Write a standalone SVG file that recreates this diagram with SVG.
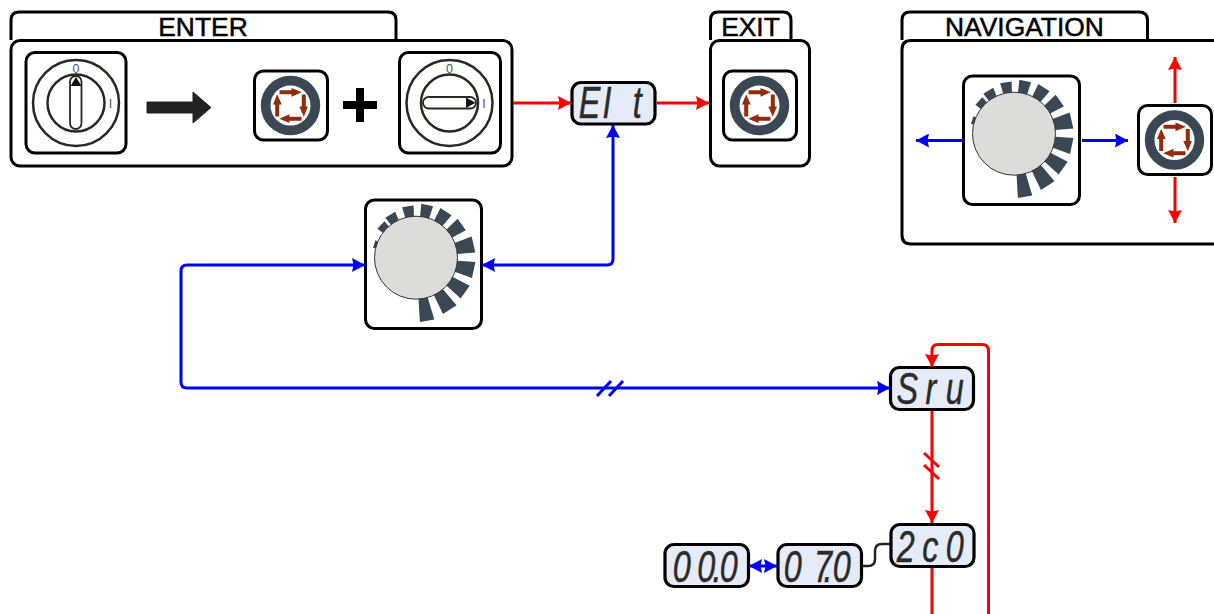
<svg xmlns="http://www.w3.org/2000/svg" xmlns:xlink="http://www.w3.org/1999/xlink" width="1214" height="614" viewBox="0 0 1214 614">
<style>
.box{fill:#fff;stroke:#000;stroke-width:3}
.tab{font:26.400px "Liberation Sans",Arial,sans-serif;text-anchor:middle;fill:#000;stroke:#000;stroke-width:.5}
.disp{fill:#e6ecf7;stroke:#000;stroke-width:3.200}
.seg{font:italic 45px "Liberation Sans",Arial,sans-serif;text-anchor:middle;fill:#2b2b2b;stroke:#2b2b2b;stroke-width:.5}
.r{fill:none;stroke:#f00;stroke-width:3}
.b{fill:none;stroke:#00f;stroke-width:3}
.sw{fill:none;stroke:#2b2722;stroke-width:2.500}
.mk{font:12.500px "Liberation Sans",Arial,sans-serif;text-anchor:middle;fill:#555}
.w{fill:#3a4754}
</style>
<defs>
<marker id="ar" viewBox="0 0 13 14" refX="13" refY="7" markerWidth="13" markerHeight="14" markerUnits="userSpaceOnUse" orient="auto-start-reverse"><path d="M0 0L13 7L0 14L1.500 7Z" fill="#f00"/></marker>
<marker id="ab" viewBox="0 0 13 14" refX="13" refY="7" markerWidth="13" markerHeight="14" markerUnits="userSpaceOnUse" orient="auto-start-reverse"><path d="M0 0L13 7L0 14L1.500 7Z" fill="#00f"/></marker>
<g id="button">
<rect class="box" x="-36.500" y="-34.500" width="73" height="69" rx="9"/>
<circle cx="-.5" r="24.850" fill="none" stroke="#3a4754" stroke-width="9.700"/>
<g fill="#8f2d0c" transform="translate(-.5 0)">
<path id="ba" d="M-11 -15.300H1V-17.500L11.300 -13.300L1 -8.800V-11.300H-11Z"/>
<use xlink:href="#ba" href="#ba" transform="rotate(90)"/>
<use xlink:href="#ba" href="#ba" transform="rotate(180)"/>
<use xlink:href="#ba" href="#ba" transform="rotate(270)"/>
</g>
</g>
<g id="dial">
<rect class="box" x="-50.500" y="-57.700" width="116" height="128.500" rx="9"/>
<g class="w">
<polygon transform="rotate(-72)" points="-4,-44 4,-44 3,-38 -3,-38"/>
<polygon transform="rotate(-47)" points="-5.200,-48 5.200,-48 4,-38 -4,-38"/>
<polygon transform="rotate(-31)" points="-5.800,-50 5.800,-50 4,-38 -4,-38"/>
<polygon transform="rotate(-9)" points="-5.800,-52 5.800,-52 4,-38 -4,-38"/>
<polygon transform="rotate(12)" points="-6,-54 6,-54 4.300,-38 -4.300,-38"/>
<polygon transform="rotate(33)" points="-6.700,-55 6.700,-55 4.600,-38 -4.600,-38"/>
<polygon transform="rotate(54)" points="-7,-56.500 7,-56.500 4.600,-38 -4.600,-38"/>
<polygon transform="rotate(77)" points="-8.200,-59 8.200,-59 5.300,-38 -5.300,-38"/>
<polygon transform="rotate(102)" points="-8.200,-59 8.200,-59 5.300,-38 -5.300,-38"/>
<polygon transform="rotate(125)" points="-7.900,-60 7.900,-60 5,-38 -5,-38"/>
<polygon transform="rotate(147)" points="-8.100,-62 8.100,-62 5,-38 -5,-38"/>
<polygon transform="rotate(170)" points="-7.300,-64 7.300,-64 4.300,-38 -4.300,-38"/>
</g>
<circle r="41.500" fill="#dcdcda" stroke="#333" stroke-width="1"/>
</g>
<g id="dialface">
<circle class="sw" r="43"/>
<circle class="sw" r="28.500"/>
<text class="mk" y="-30.500">0</text>
<text class="mk" x="34.500" y="4.500">I</text>
</g>
</defs>

<g id="enter">
<path class="box" d="M11 40V20Q11 12 19 12H388Q396 12 396 20V40"/>
<text class="tab" x="203" y="36">ENTER</text>
<rect class="box" x="11" y="40.500" width="501" height="125.500" rx="9"/>
<rect class="box" x="26" y="52.500" width="100" height="100.500" rx="9"/>
<use xlink:href="#dialface" href="#dialface" transform="translate(76 103)"/>
<rect x="70" y="76" width="11.500" height="53" rx="5.700" fill="#fff" stroke="#2b2722" stroke-width="1.800"/>
<path d="M76 77L81.500 86H70.500Z" fill="#111"/>
<path d="M147 102H193V92L211 107.500L193 123V113H147Z" fill="#222" stroke="#222" stroke-linejoin="round"/>
<use xlink:href="#button" href="#button" transform="translate(291 105.500)"/>
<path d="M343 101H356V88H364V101H377V109H364V122H356V109H343Z" fill="#000"/>
<rect class="box" x="399.500" y="52.500" width="101" height="100.500" rx="9"/>
<use xlink:href="#dialface" href="#dialface" transform="translate(449.500 103)"/>
<rect x="423" y="97" width="53" height="11.500" rx="5.700" fill="#fff" stroke="#2b2722" stroke-width="1.800"/>
<path d="M475.500 102.700L466 97.500V108Z" fill="#111"/>
</g>

<g id="exit">
<path class="box" d="M710.500 40V20Q710.500 12 718 12H783Q791 12 791 20V40"/>
<text class="tab" x="750.500" y="36">EXIT</text>
<rect class="box" x="710.500" y="40.500" width="99" height="125.500" rx="9"/>
<use xlink:href="#button" href="#button" transform="translate(760 105.500)"/>
</g>

<g id="navigation">
<path class="box" d="M902 40V20Q902 12 910 12H1139Q1147.500 12 1147.500 20V40"/>
<text class="tab" x="1024.500" y="36">NAVIGATION</text>
<path class="box" d="M1220 40.500H911Q902 40.500 902 49.500V235Q902 244 911 244H1220"/>
<use xlink:href="#dial" href="#dial" transform="translate(1014 133.700)"/>
<use xlink:href="#button" href="#button" transform="translate(1175 140)"/>
</g>

<g id="dial-main"><use xlink:href="#dial" href="#dial" transform="translate(416 257.700)"/></g>

<g id="disp-elt"><rect class="disp" x="572" y="82.500" width="83" height="41.500" rx="9"/><text class="seg" transform="scale(.72 1)" x="819 843 885" y="118">EIt</text></g>
<g id="disp-sru"><rect class="disp" x="890.500" y="367.500" width="83" height="42" rx="9"/><text class="seg" transform="scale(.72 1)" x="1260 1293 1326" y="404">Sru</text></g>
<g id="disp-2c0"><rect class="disp" x="891" y="524.500" width="83" height="42" rx="9"/><text class="seg" transform="scale(.72 1)" x="1258 1292 1326" y="562">2c0</text></g>
<g id="disp-070"><rect class="disp" x="778" y="544.500" width="83.500" height="42" rx="9"/><text class="seg" transform="scale(.72 1)" x="1101 1143 1150 1169" y="582">07.0</text></g>
<g id="disp-000"><rect class="disp" x="665" y="544.500" width="83.500" height="42" rx="9"/><text class="seg" transform="scale(.72 1)" x="947 981 996 1012" y="582">00.0</text></g>

<g id="connectors">
<path class="r" d="M513 103H571" marker-end="url(#ar)"/>
<path class="r" d="M657 103H709" marker-end="url(#ar)"/>
<path class="b" d="M613 125V259Q613 265 607 265H482" marker-start="url(#ab)" marker-end="url(#ab)"/>
<path class="b" d="M365 265H187Q181 265 181 271V382Q181 388 187 388H890" marker-start="url(#ab)" marker-end="url(#ab)"/>
<path class="b" d="M597 396L611 381M609 396L623 381"/>
<path class="r" d="M988.500 614V351Q988.500 344.500 982 344.500H938Q932 344.500 932 351V367" marker-end="url(#ar)"/>
<path class="r" d="M932 411V523" marker-end="url(#ar)"/>
<path class="r" d="M924 453L939 467M924 465L939 479"/>
<path class="r" d="M932 568V614"/>
<path class="b" d="M749 566H777" marker-start="url(#ab)" marker-end="url(#ab)"/>
<path d="M862 566H868Q875 566 875 559V551Q875 544 882 544H890" fill="none" stroke="#222" stroke-width="2.500"/>
<path class="b" d="M963 140.500H916" marker-end="url(#ab)"/>
<path class="b" d="M1082 140.500H1128" marker-end="url(#ab)"/>
<path class="r" d="M1175 103V57" marker-end="url(#ar)"/>
<path class="r" d="M1175 177V223" marker-end="url(#ar)"/>
</g>
</svg>
